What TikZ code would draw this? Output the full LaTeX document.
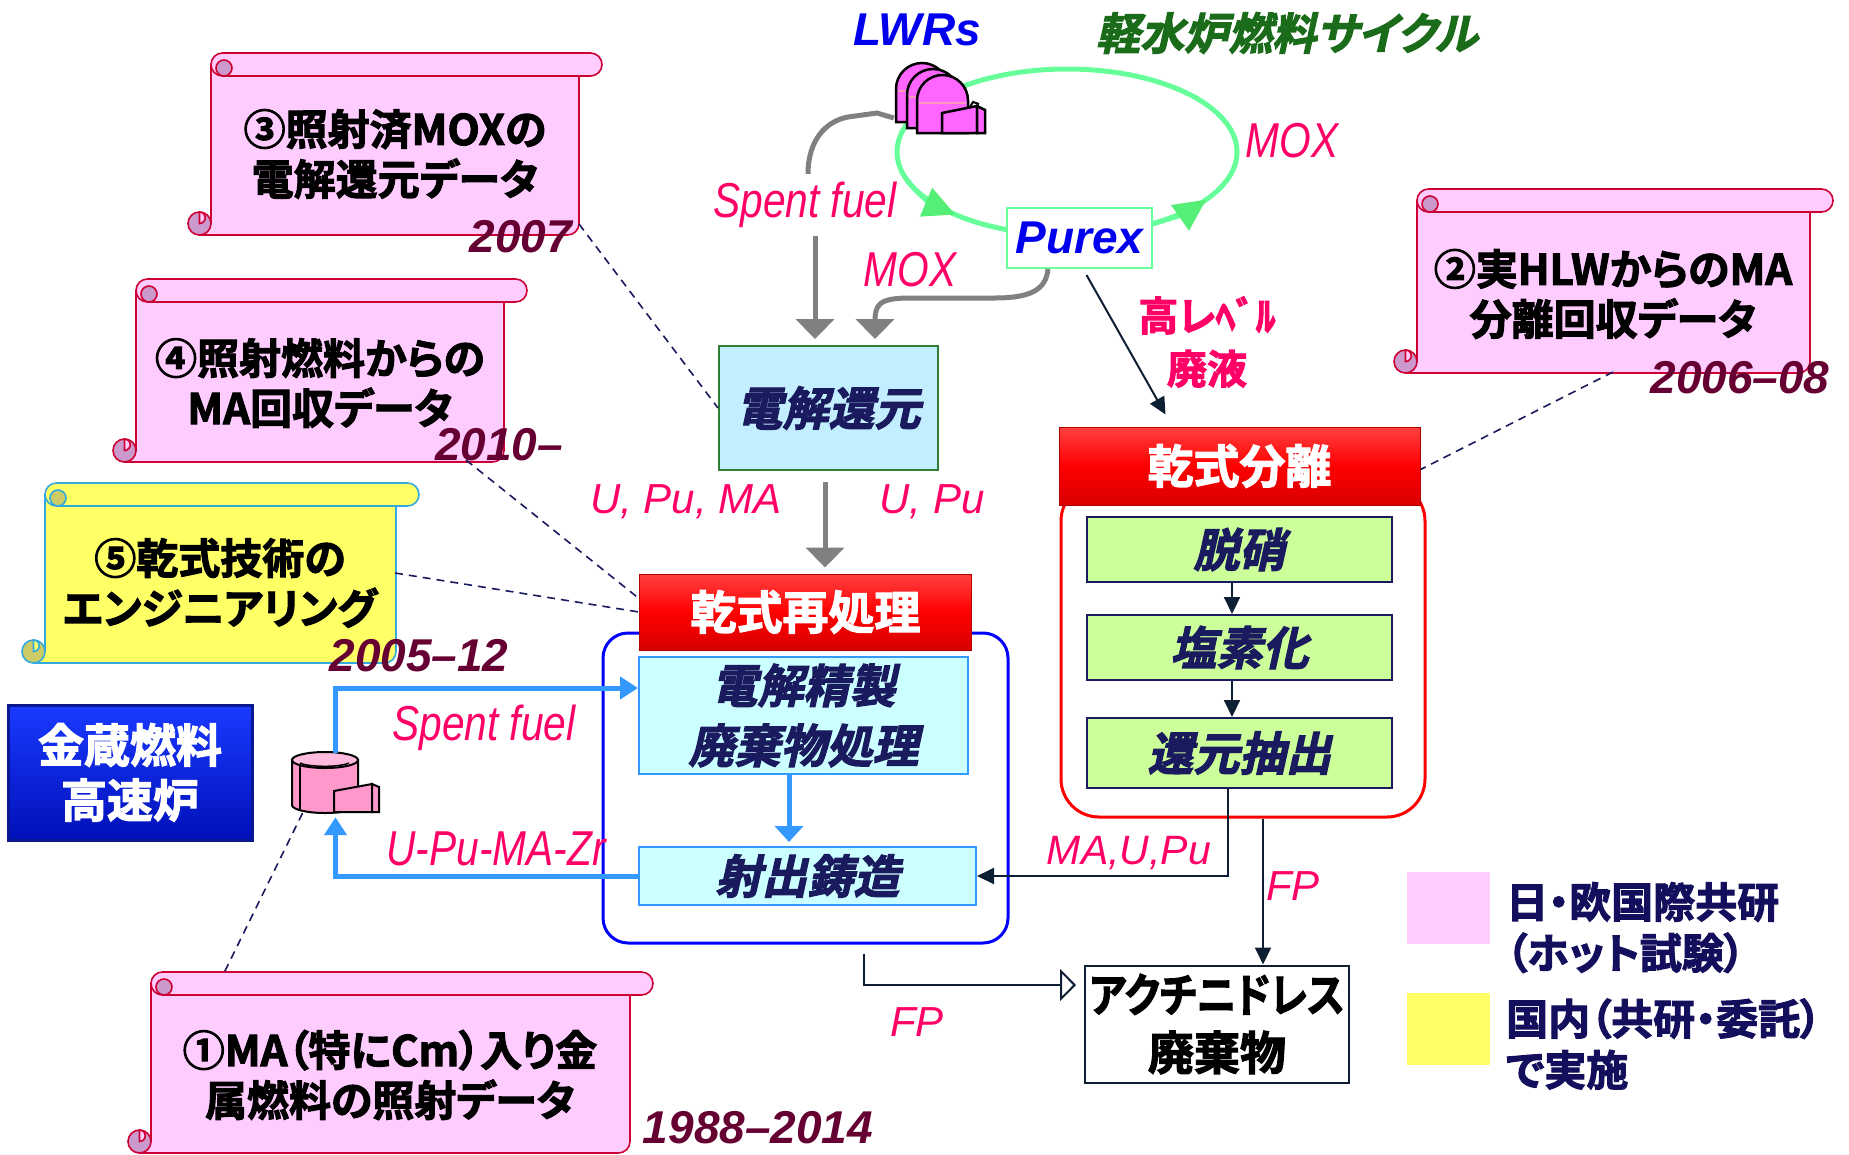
\documentclass[tikz,border=0pt]{standalone}
\usepackage{fontspec}
\usepackage{graphicx}
\usetikzlibrary{arrows.meta}
\setmainfont{Liberation Sans}
\newfontfamily\jpfont{Noto Sans CJK JP}[BoldFont={Noto Sans CJK JP Bold},RawFeature={+palt},BoldFeatures={FakeBold=2.5}]
\newfontfamily\jpslant{Noto Sans CJK JP}[BoldFont={Noto Sans CJK JP Bold},RawFeature={+palt},FakeSlant=0.22,BoldFeatures={FakeBold=2.5}]
\newfontfamily\narrowfont{Liberation Sans}[FakeStretch=0.83]

\definecolor{pinkfill}{HTML}{FFCCFF}
\definecolor{pinkdark}{HTML}{CC99CC}
\definecolor{pinkline}{HTML}{CC0033}
\definecolor{yelfill}{HTML}{FFFF66}
\definecolor{yeldark}{HTML}{CCCC66}
\definecolor{yelline}{HTML}{33AADD}
\definecolor{labelpink}{HTML}{FF0066}
\definecolor{navy}{HTML}{1A1A5E}
\definecolor{datecol}{HTML}{660033}
\definecolor{cyclegreen}{HTML}{66FF99}
\definecolor{arrowgreen}{HTML}{55EE77}
\definecolor{graypath}{HTML}{808080}
\definecolor{boxblue}{HTML}{3399FF}
\definecolor{frameblue}{HTML}{0000FF}
\definecolor{lightcyan}{HTML}{CCFFFF}
\definecolor{skycyan}{HTML}{C2EEFF}
\definecolor{boxgreen}{HTML}{2E7D32}
\definecolor{limefill}{HTML}{CCFF99}
\definecolor{lwrpink}{HTML}{FF66FF}
\definecolor{stripepink}{HTML}{FF99BB}
\definecolor{caskpink}{HTML}{FF99CC}
\definecolor{casktop}{HTML}{FFBBDD}
\definecolor{legendtext}{HTML}{140F5C}
\definecolor{darkline}{HTML}{0F1F33}
\definecolor{titlegreen}{HTML}{1A6B1A}
\definecolor{textblue}{HTML}{0000EE}
\definecolor{headtop}{HTML}{FF4040}
\definecolor{headbottom}{HTML}{D80000}
\definecolor{headline}{HTML}{B00000}
\definecolor{fastrtop}{HTML}{1A3AFF}
\definecolor{fastrbottom}{HTML}{0010B8}
\definecolor{fastrline}{HTML}{0A1890}

% scroll: #1 left, #2 top, #3 right, #4 bottom (pixels, downward y)
% #5 paper colour, #6 curl shadow, #7 outline
\newcommand{\scrollshape}[7]{%
  \begin{scope}[line width=1.6pt, draw=#7]
    \filldraw[fill=#5] (#1,-#2-11.5) -- (#3,-#2-11.5) -- (#3,-#4+11.5)
      arc[start angle=0, end angle=-90, radius=11.5] -- (#1-11.5,-#4)
      -- (#1-11.5,-#4+11.5) -- (#1,-#4+11.5) -- cycle;
    \filldraw[fill=#5] (#1+11.5,-#2) -- (#3+11.5,-#2)
      arc[start angle=90, end angle=-90, radius=11.5] -- (#1+11.5,-#2-23)
      arc[start angle=270, end angle=90, radius=11.5] -- cycle;
    \filldraw[fill=#6] (#1+13,-#2-15) circle (8);
    \filldraw[fill=#6] (#1-11.5,-#4+11.5) circle (11.5);
    \filldraw[fill=#5] (#1-11.5,-#4+23) arc[start angle=90, end angle=-90, radius=5.75] -- cycle;
  \end{scope}}

% reactor dome: #1 left, #2 top, #3 width, #4 bottom
\newcommand{\domeshape}[4]{%
  \filldraw[fill=lwrpink, draw=black, line width=2.5pt] (#1,-#4) -- (#1,-#2-#3/2)
    arc[start angle=180, end angle=0, radius=#3/2] -- (#1+#3,-#4) -- cycle;
  \draw[stripepink, line width=2pt] (#1+2,-#2-#3/2-2) -- (#1+#3-2,-#2-#3/2-2);}

\tikzset{
  scrolltext/.style={font=\jpfont\bfseries\fontsize{42pt}{50pt}\selectfont, align=center, inner sep=0pt, text=black},
  datetext/.style={font=\bfseries\itshape\fontsize{46pt}{50pt}\selectfont, text=datecol, inner sep=0pt},
  pinklabel/.style={font=\itshape\fontsize{42pt}{48pt}\selectfont, text=labelpink, inner sep=0pt},
  narrowlabel/.style={font=\narrowfont\itshape\fontsize{49pt}{54pt}\selectfont, text=labelpink, inner sep=0pt},
  procbox/.style={line width=2pt, inner sep=0pt, align=center, font=\jpslant\bfseries\fontsize{46pt}{60pt}\selectfont, text=navy},
  header/.style={inner sep=0pt, text=white, font=\jpfont\bfseries\fontsize{46pt}{56pt}\selectfont,
    top color=headtop, bottom color=headbottom, middle color=red, draw=headline, line width=1pt},
  legendtext/.style={font=\jpfont\bfseries\fontsize{42pt}{51pt}\selectfont, text=legendtext, align=left, inner sep=0pt, anchor=west},
  greyline/.style={draw=graypath, line width=5pt},
  greyarrow/.style={draw=graypath, line width=5pt, -{Triangle[width=38pt,length=20pt]}, shorten >=6pt},
  bluearrow/.style={draw=boxblue, line width=5pt, -{Triangle[width=22pt,length=18pt]}},
  darkarrow/.style={draw=darkline, line width=2pt, -{Triangle[width=16pt,length=17pt]}},
  dashstyle/.style={draw=navy, line width=1.6pt, dash pattern=on 8pt off 6pt},
  cycleline/.style={draw=cyclegreen, line width=5pt},
}

\begin{document}
\begin{tikzpicture}[x=1pt, y=1pt]
\useasboundingbox (0,0) rectangle (1849,-1154);

% ---------- research scrolls ----------
\scrollshape{211}{53}{579}{235}{pinkfill}{pinkdark}{pinkline}
\scrollshape{136}{279}{504}{462}{pinkfill}{pinkdark}{pinkline}
\scrollshape{45}{483}{396}{663}{yelfill}{yeldark}{yelline}
\scrollshape{151}{972}{630}{1153}{pinkfill}{pinkdark}{pinkline}
\scrollshape{1417}{189}{1810}{373}{pinkfill}{pinkdark}{pinkline}

\node[scrolltext] (note3) at (395,-154) {③照射済MOXの\\電解還元データ};
\node[scrolltext] (note4) at (320,-383) {④照射燃料からの\\MA回収データ};
\node[scrolltext] (note5) at (220,-583) {⑤乾式技術の\\エンジニアリング};
\node[scrolltext] (note1) at (390,-1075) {①MA（特にCm）入り金\\属燃料の照射データ};
\node[scrolltext] (note2) at (1613,-294) {②実HLWからのMA\\分離回収データ};

\node[datetext] (date3) at (521,-237) {2007};
\node[datetext] (date4) at (499,-445) {2010–};
\node[datetext] (date5) at (419,-656) {2005–12};
\node[datetext] (date2) at (1740,-378) {2006–08};
\node[datetext] (date1) at (758,-1128) {1988–2014};

\coordinate (tip3) at (579,-224);
\coordinate (tip4) at (466,-460);
\coordinate (tip5) at (395,-573);
\coordinate (tip2) at (1613,-372);
\coordinate (tip1) at (224,-973);

% ---------- light water reactor cycle ----------
\node[font=\bfseries\itshape\fontsize{46pt}{50pt}\selectfont, text=textblue, inner sep=0pt] (lwrlabel) at (917,-30) {LWRs};
\node[font=\jpslant\bfseries\fontsize{44pt}{50pt}\selectfont, text=titlegreen, inner sep=0pt] (cyclelabel) at (1287,-33) {軽水炉燃料サイクル};

\node[minimum width=92pt, minimum height=71pt, inner sep=0pt] (lwr) at (940,-97.5) {};
\node[narrowlabel, inner ysep=8pt] (sfupper) at (805,-205) {Spent fuel};
\node[narrowlabel] (moxright) at (1292,-141) {MOX};
\node[narrowlabel] (moxleft) at (910,-270) {MOX};

\draw[greyline] ([yshift=-20.5pt]lwr.west) -- (877,-113) -- (848,-117)
  .. controls (826,-121) and (808,-140) .. ([xshift=3pt]sfupper.north);

\draw[cycleline] (1067,-152) ellipse [x radius=170, y radius=83];
\draw[cycleline, -{Triangle[width=30pt,length=32pt,color=arrowgreen]}]
  ([shift={(200:170 and 83)}]1067,-152) arc[start angle=200, end angle=229, x radius=170, y radius=83];
\draw[cycleline, -{Triangle[width=30pt,length=32pt,color=arrowgreen]}]
  ([shift={(296:170 and 83)}]1067,-152) arc[start angle=296, end angle=325, x radius=170, y radius=83];

% reactor buildings
\domeshape{896}{63}{52}{122}
\domeshape{907}{69}{52}{128}
\domeshape{917}{75}{51}{133}
\filldraw[fill=lwrpink, draw=black, line width=2.5pt] (942,-113) -- (977,-106) -- (977,-133) -- (942,-133) -- cycle;
\filldraw[fill=lwrpink, draw=black, line width=2.5pt] (977,-106) -- (985,-110) -- (985,-133) -- (977,-133) -- cycle;
\draw[black, line width=2pt] (970,-107) -- (973,-102) -- (979,-104);

\node[draw=cyclegreen, line width=2pt, fill=white, minimum width=145pt, minimum height=60pt, inner sep=0pt,
  font=\bfseries\itshape\fontsize{46pt}{50pt}\selectfont, text=textblue] (purex) at (1079.5,-238) {Purex};

\node[font=\jpfont\bfseries\fontsize{40pt}{53pt}\selectfont, text=labelpink, align=center, inner sep=0pt] (hlw) at (1207,-342) {高レﾍﾞﾙ\\廃液};

% ---------- electrolytic reduction ----------
\node[procbox, fill=skycyan, draw=boxgreen, minimum width=219pt, minimum height=124pt] (denkai) at (828.5,-408) {電解還元};
\node[pinklabel] (upuma) at (686,-502) {U, Pu, MA};
\node[pinklabel] (upu) at (932,-502) {U, Pu};

% ---------- dry reprocessing ----------
\node[draw=frameblue, line width=3pt, rounded corners=25pt, minimum width=405pt, minimum height=310pt] (reprocframe) at (805.5,-788) {};
\node[header, minimum width=332pt, minimum height=76pt] (kanhead) at (805.5,-612) {乾式再処理};
\node[procbox, fill=lightcyan, draw=boxblue, minimum width=329pt, minimum height=117pt] (seisei) at (803.5,-715.5) {電解精製\\廃棄物処理};
\node[procbox, fill=lightcyan, draw=boxblue, minimum width=337pt, minimum height=58pt] (chuzo) at (807.5,-876) {射出鋳造};

% ---------- dry partitioning ----------
\node[draw=red, line width=3pt, rounded corners=38pt, minimum width=364pt, minimum height=334pt] (bunriframe) at (1243,-650) {};
\node[header, minimum width=361pt, minimum height=78pt] (bunrihead) at (1239.5,-466) {乾式分離};
\node[procbox, fill=limefill, draw=navy, minimum width=305pt, minimum height=65pt] (datsusho) at (1239.5,-549.5) {脱硝};
\node[procbox, fill=limefill, draw=navy, minimum width=305pt, minimum height=65pt] (ensoka) at (1239.5,-647.5) {塩素化};
\node[procbox, fill=limefill, draw=navy, minimum width=305pt, minimum height=70pt] (kangen) at (1239.5,-753) {還元抽出};

\node[draw=darkline, line width=2pt, fill=white, minimum width=264pt, minimum height=117pt, align=center, inner sep=0pt,
  font=\jpfont\bfseries\fontsize{46pt}{58pt}\selectfont, text=black] (actinide) at (1217,-1024)
  {\scalebox{0.86}[1]{アクチニドレス}\\廃棄物};

% ---------- metal fuel fast reactor ----------
\node[draw=fastrline, line width=3pt, top color=fastrtop, bottom color=fastrbottom, minimum width=244pt, minimum height=135pt,
  inner sep=0pt, text=white, font=\jpfont\bfseries\fontsize{46pt}{55pt}\selectfont, align=center] (fastr) at (130,-772.5) {金蔵燃料\\高速炉};
\node[minimum width=88pt, minimum height=60pt, inner sep=0pt] (cask) at (335.5,-783) {};
\filldraw[fill=caskpink, draw=black, line width=2pt] (292,-760) -- (292,-805)
  arc[start angle=180, end angle=360, x radius=33, y radius=8] -- (358,-760) -- cycle;
\draw[black, line width=2pt] (300,-765) -- (300,-811);
\filldraw[fill=casktop, draw=black, line width=2pt] (325,-760) ellipse [x radius=33, y radius=8];
\draw[black, line width=1.5pt] (300,-763) arc[start angle=200, end angle=340, x radius=26, y radius=5];
\filldraw[fill=caskpink, draw=black, line width=2pt] (334,-791) -- (372,-784) -- (372,-812) -- (334,-812) -- cycle;
\filldraw[fill=caskpink, draw=black, line width=2pt] (372,-784) -- (379,-787) -- (379,-812) -- (372,-812) -- cycle;

\node[narrowlabel] (sflower) at (484,-728) {Spent fuel};
\node[narrowlabel] (upumazr) at (496,-849) {U-Pu-MA-Zr};
\node[pinklabel, font=\itshape\fontsize{41pt}{48pt}\selectfont] (maupu) at (1129,-853) {MA,U,Pu};
\node[pinklabel] (fpright) at (1293,-886) {FP};
\node[pinklabel] (fpleft) at (917,-1022) {FP};

% ---------- connectors ----------
\draw[greyarrow] ([xshift=10pt]sfupper.south) -- ([xshift=-13.5pt]denkai.north);
\draw[greyarrow] ([xshift=-31.5pt]purex.south) .. controls (1046,-290) and (1030,-298) .. (995,-298)
  -- (910,-298) .. controls (878,-298) and (875,-305) .. (875,-322) -- ([xshift=46.5pt]denkai.north);
\draw[greyarrow, shorten <=11pt] ([xshift=-3.5pt]denkai.south) -- ([xshift=19.5pt]kanhead.north);

\draw[darkarrow] ([xshift=7pt,yshift=-6pt]purex.south) -- ([xshift=-74pt,yshift=12pt]bunrihead.north);
\draw[darkarrow] ([xshift=-7.5pt]datsusho.south) -- ([xshift=-7.5pt]ensoka.north);
\draw[darkarrow] ([xshift=-7.5pt]ensoka.south) -- ([xshift=-7.5pt]kangen.north);
\draw[darkarrow] ([xshift=-11.5pt]kangen.south) |- (chuzo.east);
\draw[darkarrow] ([xshift=20pt]bunriframe.south) -- ([xshift=20pt]bunriframe.south |- actinide.north);
\draw[draw=darkline, line width=2pt, -{Triangle[open,width=32pt,length=16pt]}, shorten >=8pt]
  ([xshift=58.5pt,yshift=-9pt]reprocframe.south) |- ([yshift=39pt]actinide.west);

\draw[bluearrow] (cask.north) |- ([yshift=27.5pt]seisei.west);
\draw[bluearrow] (chuzo.west) -| ([yshift=-4pt]cask.south);
\draw[draw=boxblue, line width=5pt, -{Triangle[width=28pt,length=16pt]}, shorten >=4pt]
  ([xshift=-14.5pt]seisei.south) -- ([xshift=-18.5pt]chuzo.north);

\draw[dashstyle] (tip3) -- (denkai.west);
\draw[dashstyle] (tip4) -- ([yshift=13.5pt]kanhead.west);
\draw[dashstyle] (tip5) -- (kanhead.west);
\draw[dashstyle] (tip2) -- ([yshift=-3.5pt]bunrihead.east);
\draw[dashstyle] ([xshift=-33pt]cask.south) -- (tip1);

% ---------- legend ----------
\node[fill=pinkfill, minimum width=83pt, minimum height=72pt, inner sep=0pt] (keypink) at (1448.5,-908) {};
\node[fill=yelfill, minimum width=83pt, minimum height=72pt, inner sep=0pt] (keyyellow) at (1448.5,-1029) {};
\node[legendtext] (keypinktext) at (1506,-927.5) {日・欧国際共研\\（ホット試験）};
\node[legendtext] (keyyellowtext) at (1506,-1044) {国内（共研・委託）\\で実施};
\end{tikzpicture}
\end{document}
